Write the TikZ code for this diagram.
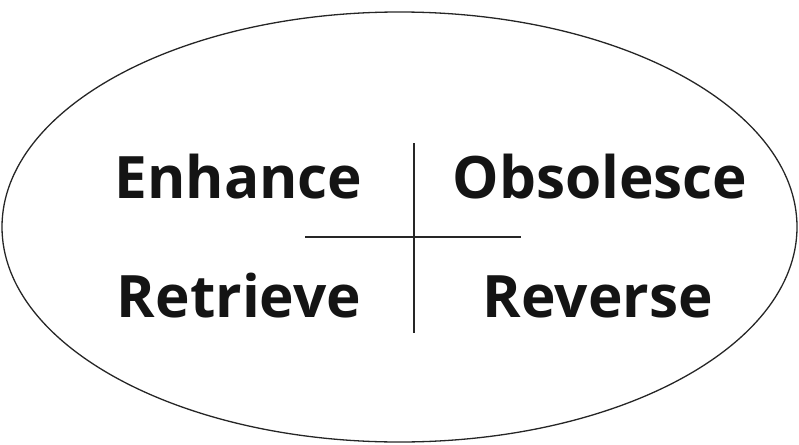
\documentclass[tikz,border=0pt]{standalone}
\usepackage{fontspec}
\usetikzlibrary{shapes.geometric}
\setmainfont{Open Sans}
\begin{document}
\begin{tikzpicture}[x=1pt,y=-1pt,
  word/.style={font=\fontsize{58.5}{62}\selectfont\bfseries, text=black!92, inner sep=0pt, anchor=base},
  rule/.style={line width=1.2pt, black!85}]
\useasboundingbox (0,0) rectangle (799,444);
\node[draw, black!85, line width=1.3pt, ellipse, minimum width=795pt, minimum height=430pt, inner sep=0pt] (oval) at (399.5,227) {};
\node[word] (enh) at (238.5,198) {Enhance};
\node[word] (obs) at (600,198) {Obsolesce};
\node[word] (ret) at (239,317) {Retrieve};
\node[word] (rev) at (598,317) {Reverse};
\coordinate (vtop) at (414,143);
\coordinate (vbot) at (414,333);
\coordinate (hl) at (305,237);
\coordinate (hr) at (521,237);
\draw[rule] (vtop) -- (vbot);
\draw[rule] (hl) -- (hr);
\end{tikzpicture}
\end{document}
